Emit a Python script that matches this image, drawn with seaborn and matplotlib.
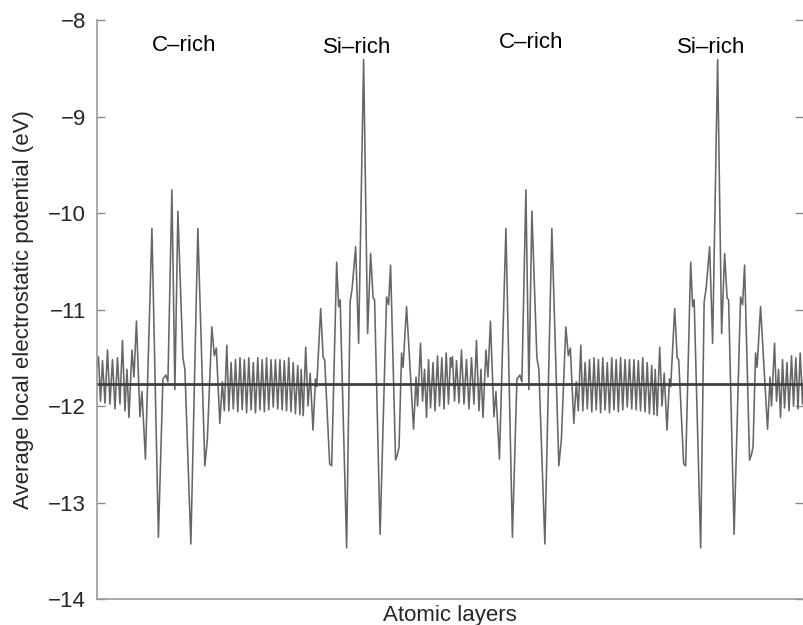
import numpy as np
import pandas as pd
import matplotlib
matplotlib.use("Agg")
import matplotlib.pyplot as plt
import seaborn as sns

# ---- data (one superlattice period) ----
period_pos = [
    0.0, 1.5, 3.5, 5.5, 8.0, 10.5, 13.0, 15.5, 18.0, 20.5, 23.0, 25.5, 28.0, 30.0, 32.0,
    35.0, 37.0, 39.5, 43.0, 45.0, 48.5, 55.0, 61.5, 66.0, 69.0, 71.0, 75.0, 78.0, 81.0,
    86.0, 88.0, 94.0, 101.0, 108.0, 110.5, 115.0, 117.5, 119.5, 123.0, 125.5, 127.5, 130.0,
    132.0, 134.3, 136.5, 138.7, 141.0, 143.2, 145.4, 147.6, 149.8, 152.0, 154.3, 156.5,
    158.7, 161.0, 163.2, 165.4, 167.6, 169.8, 172.0, 174.3, 176.5, 178.7, 181.0, 183.2,
    185.4, 187.6, 189.8, 192.0, 194.3, 196.5, 198.7, 201.0, 203.2, 204.5, 206.5, 209.0,
    211.3, 213.5, 216.3, 218.8, 220.0, 224.0, 226.5, 228.0, 233.0, 235.0, 240.0, 242.0,
    243.5, 250.0, 253.5, 255.5, 259.0, 262.0, 267.0, 271.0, 274.0, 276.5, 278.0, 283.5,
    290.0, 292.0, 294.0, 299.0, 301.0, 302.5, 305.0, 306.5, 310.0, 317.0, 319.5, 321.0,
    324.0, 326.0, 328.0, 330.0, 332.0, 334.0, 336.5, 338.5, 341.0, 343.0, 345.3, 347.5,
    349.7, 352.0, 354.0,
]
period_potential = [
    -11.60, -11.49, -11.95, -11.53, -11.97, -11.42, -11.98, -11.52, -12.03, -11.50, -11.98,
    -11.32, -12.05, -11.62, -12.12, -11.42, -11.70, -11.12, -12.11, -11.85, -12.55, -10.16,
    -13.36, -11.72, -11.68, -11.75, -9.76, -11.83, -9.98, -11.50, -11.62, -13.43, -10.16,
    -12.62, -12.35, -11.18, -11.48, -11.40, -12.18, -11.75, -12.05, -11.37, -12.05, -11.55,
    -12.03, -11.52, -12.06, -11.50, -12.04, -11.52, -12.07, -11.50, -12.04, -11.55, -12.07,
    -11.50, -12.04, -11.52, -12.06, -11.50, -12.04, -11.52, -12.01, -11.52, -12.03, -11.52,
    -12.04, -11.53, -12.05, -11.50, -12.06, -11.55, -12.08, -11.58, -12.09, -11.62, -12.10,
    -11.39, -12.00, -11.66, -12.25, -11.72, -11.80, -10.99, -11.50, -11.52, -12.60, -12.62,
    -10.51, -10.97, -10.90, -13.47, -10.92, -10.78, -10.35, -11.35, -8.41, -11.25, -10.42,
    -10.88, -10.90, -13.33, -10.87, -10.95, -10.54, -12.56, -12.50, -12.42, -11.45, -11.60,
    -10.97, -12.24, -11.70, -12.00, -11.35, -11.95, -11.62, -12.12, -11.52, -12.02, -11.55,
    -12.05, -11.48, -12.00, -11.50, -12.03, -11.45, -11.98, -11.50,
]
period_length = 354.5
n_periods = 2
reference_level = -11.77

region_labels = ["C\u2013rich", "Si\u2013rich", "C\u2013rich", "Si\u2013rich"]
y_ticks = [-14, -13, -12, -11, -10, -9, -8]

# ---- build table ----
pos = np.concatenate([np.array(period_pos) + k * period_length for k in range(n_periods)])
pot = np.concatenate([np.array(period_potential) for _ in range(n_periods)])
df = pd.DataFrame({"layer": pos, "potential": pot})

# ---- plotting ----
sns.set_theme(style="white")
plt.rcParams["font.family"] = ["Liberation Sans", "DejaVu Sans"]
plt.rcParams["axes.unicode_minus"] = True

fig = plt.figure(figsize=(8.04, 6.25), dpi=100)
ax = fig.add_axes([97 / 804, 26 / 625, 706 / 804, 579 / 625])

sns.lineplot(data=df, x="layer", y="potential", ax=ax, color="#666666",
             linewidth=1.15, estimator=None, sort=False)
for line in ax.get_lines():
    line.set_solid_joinstyle("round")
ax.axhline(reference_level, color="#3f3f3f", linewidth=2.0)

ax.set_xlim(0, 707)
ax.set_ylim(-14, -8)
ax.set_yticks(y_ticks)
ax.set_yticklabels([f"\u2212{abs(t)}" for t in y_ticks])
ax.set_xticks([])

label_x = [87, 261, 435, 615]
label_y = [-8.26, -8.28, -8.23, -8.28]
for lx, ly, txt in zip(label_x, label_y, region_labels):
    ax.text(lx, ly, txt, ha="center", va="center", fontsize=16, color="black")

ax.set_xlabel("Atomic layers", fontsize=16, labelpad=4)
ax.set_ylabel("Average local electrostatic potential (eV)", fontsize=16, labelpad=10)

ax.spines["top"].set_visible(False)
ax.spines["right"].set_visible(False)
for side in ["left", "bottom"]:
    ax.spines[side].set_color("#9a9a9a")
    ax.spines[side].set_linewidth(1.2)

ax.tick_params(axis="y", direction="in", length=6, width=1, color="#8a8a8a",
               labelsize=16, left=True, right=True, pad=8)
ax.tick_params(axis="x", bottom=False)

fig.savefig("out.png", dpi=100)
